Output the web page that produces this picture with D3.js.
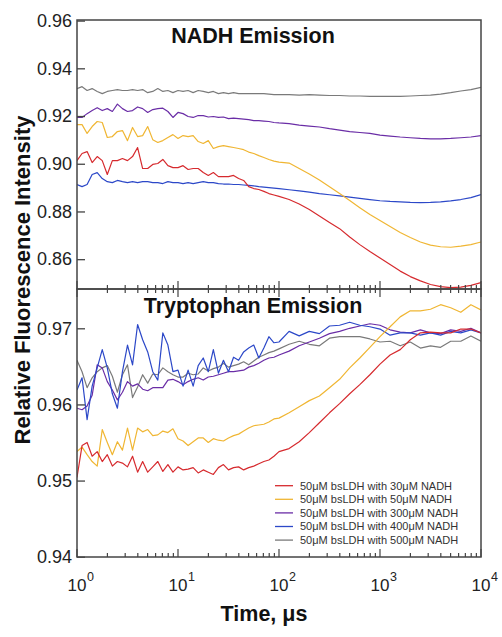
<!DOCTYPE html>
<html><head><meta charset="utf-8">
<script src="https://cdn.jsdelivr.net/npm/d3@7"></script>
<style>
body{margin:0;background:#fff;}
svg{display:block;font-family:"Liberation Sans",Arial,sans-serif;}
</style></head>
<body><svg id="c" width="502" height="637"></svg>
<script>
// ---- data ----
const logTime = [0,0.05,0.1,0.15,0.2,0.25,0.3,0.35,0.4,0.45,0.5,0.55,0.6,0.65,0.7,0.75,0.8,0.85,0.9,0.95,1,1.05,1.1,1.15,1.2,1.25,1.3,1.35,1.4,1.45,1.5,1.55,1.6,1.65,1.7,1.75,1.8,1.85,1.9,1.95,2,2.1,2.2,2.3,2.4,2.5,2.6,2.7,2.8,2.9,3,3.1,3.2,3.3,3.4,3.5,3.6,3.7,3.8,3.9,4];
const seriesNames = ["50\u03bcM bsLDH with 30\u03bcM NADH","50\u03bcM bsLDH with 50\u03bcM NADH","50\u03bcM bsLDH with 300\u03bcM NADH","50\u03bcM bsLDH with 400\u03bcM NADH","50\u03bcM bsLDH with 500\u03bcM NADH"];
const seriesColors = ["#d62a2e","#f0b633","#6a2da6","#2c48c8","#7a7a7a"];

// NADH emission (top)
const nadh30 = [0.9013,0.9043,0.9051,0.9005,0.9030,0.9013,0.8955,0.9013,0.9013,0.9022,0.9013,0.9030,0.9068,0.8980,0.8980,0.8997,0.9001,0.9018,0.8992,0.8984,0.8984,0.8992,0.8976,0.8980,0.8980,0.8963,0.8951,0.8963,0.8946,0.8946,0.8946,0.8951,0.8938,0.8930,0.8904,0.8896,0.8892,0.8884,0.8875,0.8869,0.8863,0.8850,0.8831,0.8808,0.8781,0.8754,0.8728,0.8693,0.8661,0.8632,0.8605,0.8578,0.8550,0.8527,0.8509,0.8494,0.8485,0.8481,0.8483,0.8490,0.8502];
const nadh50 = [0.9164,0.9164,0.9127,0.9156,0.9177,0.9173,0.9110,0.9114,0.9135,0.9139,0.9097,0.9152,0.9114,0.9118,0.9156,0.9101,0.9089,0.9097,0.9110,0.9122,0.9106,0.9118,0.9114,0.9118,0.9093,0.9085,0.9097,0.9064,0.9072,0.9076,0.9072,0.9068,0.9064,0.9059,0.9049,0.9043,0.9034,0.9026,0.9018,0.9011,0.9007,0.9003,0.8980,0.8957,0.8932,0.8904,0.8875,0.8846,0.8816,0.8787,0.8762,0.8737,0.8712,0.8691,0.8672,0.8659,0.8652,0.8650,0.8655,0.8661,0.8672];
const nadh300 = [0.9194,0.9194,0.9210,0.9223,0.9235,0.9223,0.9231,0.9219,0.9250,0.9231,0.9219,0.9223,0.9238,0.9231,0.9215,0.9227,0.9231,0.9233,0.9219,0.9194,0.9215,0.9210,0.9198,0.9194,0.9202,0.9202,0.9196,0.9198,0.9194,0.9196,0.9189,0.9191,0.9189,0.9187,0.9185,0.9181,0.9181,0.9179,0.9177,0.9173,0.9171,0.9168,0.9162,0.9158,0.9154,0.9147,0.9141,0.9135,0.9131,0.9127,0.9120,0.9116,0.9112,0.9109,0.9106,0.9104,0.9104,0.9106,0.9109,0.9112,0.9118];
const nadh400 = [0.8913,0.8904,0.8913,0.8955,0.8963,0.8938,0.8925,0.8921,0.8930,0.8925,0.8921,0.8925,0.8921,0.8925,0.8925,0.8921,0.8921,0.8917,0.8925,0.8921,0.8921,0.8917,0.8921,0.8917,0.8921,0.8925,0.8921,0.8921,0.8917,0.8915,0.8915,0.8913,0.8913,0.8911,0.8909,0.8907,0.8904,0.8902,0.8900,0.8898,0.8896,0.8891,0.8886,0.8881,0.8875,0.8870,0.8865,0.8860,0.8855,0.8850,0.8845,0.8842,0.8840,0.8838,0.8837,0.8838,0.8840,0.8844,0.8850,0.8858,0.8871];
const nadh500 = [0.9315,0.9323,0.9307,0.9315,0.9303,0.9294,0.9303,0.9307,0.9311,0.9307,0.9307,0.9311,0.9307,0.9311,0.9298,0.9303,0.9315,0.9303,0.9307,0.9298,0.9307,0.9303,0.9307,0.9298,0.9307,0.9303,0.9298,0.9303,0.9294,0.9298,0.9294,0.9298,0.9294,0.9294,0.9294,0.9294,0.9294,0.9294,0.9292,0.9290,0.9290,0.9290,0.9288,0.9290,0.9288,0.9286,0.9286,0.9284,0.9284,0.9282,0.9282,0.9282,0.9282,0.9284,0.9286,0.9288,0.9292,0.9298,0.9305,0.9311,0.9320];

// Tryptophan emission (bottom)
const trp30 = [0.9504,0.9546,0.9550,0.9532,0.9538,0.9525,0.9534,0.9519,0.9525,0.9523,0.9518,0.9532,0.9511,0.9525,0.9511,0.9518,0.9525,0.9512,0.9521,0.9511,0.9518,0.9514,0.9515,0.9517,0.9510,0.9514,0.9511,0.9508,0.9517,0.9521,0.9514,0.9517,0.9518,0.9514,0.9517,0.9519,0.9522,0.9525,0.9527,0.9532,0.9538,0.9542,0.9551,0.9563,0.9576,0.9589,0.9601,0.9614,0.9626,0.9639,0.9653,0.9665,0.9672,0.9685,0.9694,0.9695,0.9694,0.9694,0.9699,0.9699,0.9694];
const trp50 = [0.9538,0.9544,0.9534,0.9525,0.9519,0.9567,0.9550,0.9534,0.9551,0.9540,0.9569,0.9540,0.9569,0.9564,0.9567,0.9559,0.9560,0.9565,0.9563,0.9568,0.9555,0.9552,0.9546,0.9551,0.9556,0.9556,0.9550,0.9555,0.9553,0.9552,0.9556,0.9559,0.9561,0.9565,0.9569,0.9572,0.9573,0.9574,0.9577,0.9581,0.9582,0.9589,0.9597,0.9605,0.9611,0.9622,0.9633,0.9648,0.9661,0.9675,0.9689,0.9702,0.9715,0.9723,0.9723,0.9725,0.9731,0.9727,0.9721,0.9731,0.9724];
const trp300 = [0.9595,0.9593,0.9598,0.9612,0.9652,0.9648,0.9630,0.9619,0.9606,0.9616,0.9630,0.9624,0.9627,0.9620,0.9618,0.9622,0.9622,0.9622,0.9632,0.9633,0.9630,0.9626,0.9630,0.9633,0.9635,0.9632,0.9636,0.9637,0.9639,0.9641,0.9643,0.9643,0.9644,0.9645,0.9649,0.9651,0.9654,0.9658,0.9661,0.9662,0.9665,0.9670,0.9677,0.9682,0.9687,0.9693,0.9696,0.9700,0.9703,0.9706,0.9704,0.9698,0.9695,0.9694,0.9698,0.9694,0.9693,0.9698,0.9696,0.9700,0.9694];
const trp400 = [0.9619,0.9635,0.9580,0.9624,0.9648,0.9672,0.9648,0.9614,0.9595,0.9643,0.9678,0.9652,0.9705,0.9685,0.9669,0.9643,0.9632,0.9694,0.9678,0.9643,0.9645,0.9624,0.9645,0.9624,0.9651,0.9661,0.9643,0.9672,0.9641,0.9658,0.9643,0.9662,0.9658,0.9669,0.9674,0.9678,0.9661,0.9674,0.9689,0.9681,0.9682,0.9696,0.9690,0.9696,0.9693,0.9703,0.9704,0.9708,0.9704,0.9702,0.9699,0.9691,0.9694,0.9694,0.9691,0.9694,0.9691,0.9696,0.9694,0.9698,0.9694];
const trp500 = [0.9658,0.9643,0.9622,0.9635,0.9643,0.9648,0.9651,0.9637,0.9616,0.9639,0.9652,0.9609,0.9623,0.9639,0.9628,0.9640,0.9639,0.9648,0.9643,0.9639,0.9636,0.9636,0.9641,0.9639,0.9640,0.9648,0.9644,0.9647,0.9649,0.9654,0.9649,0.9651,0.9653,0.9656,0.9652,0.9657,0.9662,0.9665,0.9668,0.9670,0.9673,0.9679,0.9683,0.9679,0.9677,0.9687,0.9689,0.9689,0.9689,0.9686,0.9682,0.9683,0.9677,0.9682,0.9674,0.9677,0.9675,0.9683,0.9683,0.9690,0.9683];

const topTicks = [0.86,0.88,0.90,0.92,0.94,0.96];
const bottomTicks = [0.94,0.95,0.96,0.97];
const xDecades = [1,10,100,1000,10000];
const xDecadeExp = ["0","1","2","3","4"];

// ---- layout ----
const svg = d3.select("#c");
const L = 77, R = 481, T1 = 20, B1 = 289, T2 = 289, B2 = 557;
const frameColor = "#444";
const x = d3.scaleLog().domain([1, 1e4]).range([L, R]);
const yTop = d3.scaleLinear().domain([0.8475, 0.96]).range([B1, 20.6]);
const yBot = d3.scaleLinear().domain([0.94, 0.97]).range([556.7, 328.3]);

const minor = x.ticks().filter(t => !xDecades.includes(t));

function panel(y, top, bottom, yt, series, title, titleY, tickUp, tickDown) {
  const g = svg.append("g");
  const id = "clip" + top;
  svg.append("clipPath").attr("id", id).append("rect").attr("x", L).attr("y", top).attr("width", R - L).attr("height", bottom - top);
  const order = [4, 2, 3, 1, 0];
  const line = d3.line().x((d, i) => x(Math.pow(10, logTime[i]))).y(d => y(d));
  const lg = g.append("g").attr("clip-path", `url(#${id})`);
  order.forEach(k => {
    lg.append("path").datum(series[k]).attr("d", line).attr("fill", "none")
      .attr("stroke", seriesColors[k]).attr("stroke-width", 1.2).attr("stroke-linejoin", "round");
  });
  const ax = d3.axisLeft(y).tickValues(yt).tickFormat(d3.format(".2f")).tickSize(-8).tickPadding(5).tickSizeOuter(0);
  const ag = g.append("g").attr("transform", `translate(${L},0)`).call(ax);
  ag.select(".domain").remove();
  ag.selectAll(".tick line").attr("stroke", frameColor).attr("stroke-width", 1.3);
  ag.selectAll(".tick text").attr("font-size", 18).attr("fill", "#222").attr("font-family", "Liberation Sans, Arial, sans-serif");
  const tg = g.append("g").attr("stroke", frameColor).attr("stroke-width", 1.2);
  if (tickUp) {
    tg.selectAll(".mj").data(xDecades).join("line").attr("x1", d => x(d)).attr("x2", d => x(d)).attr("y1", bottom).attr("y2", bottom - 8);
    tg.selectAll(".mn").data(minor).join("line").attr("x1", d => x(d)).attr("x2", d => x(d)).attr("y1", bottom).attr("y2", bottom - 4);
  }
  if (tickDown) {
    const t2 = g.append("g").attr("stroke", frameColor).attr("stroke-width", 1.2);
    t2.selectAll("line.a").data(xDecades).join("line").attr("x1", d => x(d)).attr("x2", d => x(d)).attr("y1", top).attr("y2", top + 8);
    t2.selectAll("line.b").data(minor).join("line").attr("x1", d => x(d)).attr("x2", d => x(d)).attr("y1", top).attr("y2", top + 4);
  }
  g.append("rect").attr("x", L).attr("y", top).attr("width", R - L).attr("height", bottom - top)
    .attr("fill", "none").attr("stroke", frameColor).attr("stroke-width", 1.5);
  g.append("text").attr("x", 253).attr("y", titleY).attr("text-anchor", "middle")
    .attr("font-size", 21.5).attr("font-weight", "bold").attr("fill", "#111").text(title);
}

panel(yTop, T1, B1, topTicks, [nadh30, nadh50, nadh300, nadh400, nadh500], "NADH Emission", 43.3, true, false);
panel(yBot, T2, B2, bottomTicks, [trp30, trp50, trp300, trp400, trp500], "Tryptophan Emission", 313, true, true);

// x tick labels
const xl = svg.append("g").attr("fill", "#222");
xDecades.forEach((d, i) => {
  const t = xl.append("text").attr("x", x(d) - 9.5).attr("y", 591).attr("font-size", 17);
  t.append("tspan").text("10");
  t.append("tspan").attr("font-size", 12.5).attr("dy", -10).attr("dx", 0.5).text(xDecadeExp[i]);
});

// axis titles
svg.append("text").attr("x", 264).attr("y", 621).attr("text-anchor", "middle")
  .attr("font-size", 21.5).attr("font-weight", "bold").attr("fill", "#111").text("Time, \u03bcs");
svg.append("text").attr("transform", "translate(29.5,280) rotate(-90)").attr("text-anchor", "middle")
  .attr("font-size", 22).attr("font-weight", "bold").attr("fill", "#111").text("Relative Fluorescence Intensity");

// legend
const leg = svg.append("g");
seriesNames.forEach((n, i) => {
  const yy = 485.7 + i * 13.6;
  leg.append("line").attr("x1", 275).attr("x2", 293).attr("y1", yy).attr("y2", yy)
    .attr("stroke", seriesColors[i]).attr("stroke-width", 1.3);
  leg.append("text").attr("x", 300).attr("y", yy).attr("dy", "0.35em").attr("font-size", 11).attr("fill", "#333").text(n);
});
</script></body></html>
